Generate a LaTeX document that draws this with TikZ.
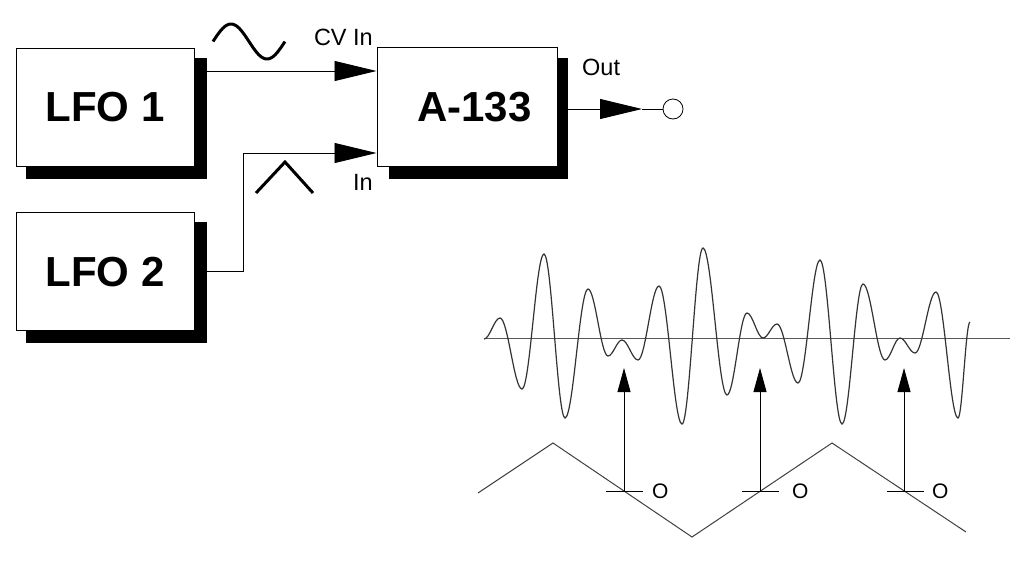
\documentclass[tikz,border=0pt]{standalone}
\usepackage{fontspec}
\setmainfont{Liberation Sans}
\usetikzlibrary{arrows.meta}
\begin{document}
\begin{tikzpicture}[x=1pt,y=-1pt,
  shadowbox/.style={fill=black,draw=none,inner sep=0pt},
  mainbox/.style={draw=black,fill=white,line width=1pt,inner sep=0pt,minimum width=178pt,minimum height=118pt},
  boxtext/.style={font=\fontsize{42}{48}\selectfont\bfseries,inner sep=0pt},
  lbl/.style={font=\fontsize{23.5}{28}\selectfont,inner sep=0pt},
  olbl/.style={font=\fontsize{21}{25}\selectfont,inner sep=0pt,anchor=base west},
  conn/.style={draw=black,line width=0.9pt},
  bigtip/.style={-{Triangle[length=42pt,width=20pt]}},
  smalltip/.style={-{Triangle[length=24pt,width=13pt]}},
  symbol/.style={line width=3pt,line join=miter},
  wave/.style={draw=black!80,line width=1.2pt},
  axis/.style={draw=black!65,line width=1.6pt},
  tri/.style={draw=black!75,line width=1pt}]
\useasboundingbox (0,0) rectangle (1024,576);

% shadows
\node[shadowbox,minimum width=181pt,minimum height=121pt] (lfo1s) at (116.5,118.5) {};
\node[shadowbox,minimum width=181pt,minimum height=121pt] (lfo2s) at (116.5,282.5) {};
\node[shadowbox,minimum width=179pt,minimum height=121pt] (a133s) at (478.5,118.5) {};

% boxes
\node[mainbox] (lfo1) at (105,107) {};
\node[mainbox] (lfo2) at (105,271.5) {};
\node[mainbox,minimum width=180pt,minimum height=119pt] (a133) at (467,106.5) {};
\node[boxtext] (lfo1t) at (105,107.5) {LFO 1};
\node[boxtext] (lfo2t) at (105,272) {LFO 2};
\node[boxtext] (a133t) at (474.5,107.5) {A-133};

% labels
\node[lbl,anchor=base east] (cvlbl) at (373,45) {CV In};
\node[lbl,anchor=base east] (inlbl) at (373,190) {In};
\node[lbl,anchor=base west] (outlbl) at (582,75) {Out};

% connectors
\coordinate (cvin) at (a133.west |- 0,71);
\coordinate (inp) at (a133.west |- 0,153);
\coordinate (bend) at (243,153);
\coordinate (outtip) at (642,109);
\node[draw=black,line width=0.8pt,circle,minimum size=20pt,inner sep=0pt] (jack) at (673,109) {};
\draw[conn,bigtip] (lfo1s.east |- cvin) -- (cvin);
\draw[conn,bigtip] (lfo2s.east |- lfo2.center) -| (bend) -- (inp);
\draw[conn,bigtip] (a133s.east |- outtip) -- (outtip);
\draw[conn] (outtip) -- (jack.west);

% waveform symbols
\draw[symbol] plot[domain=0:1,samples=60,smooth] ({213+72*\x},{41.5-17.5*sin(360*\x)});
\draw[symbol] (256,193) -- (285,162) -- (313,193);

% axis
\draw[axis] (484,338.5) -- (1010,338.5);

% modulated waveform
\draw[wave] (484,339)
  \foreach \x/\y [remember=\x as \lx (initially 484), remember=\y as \ly (initially 339)] in
  {500/318, 522/389, 544/254, 565/418, 588/289, 608/356, 622/340, 638/360, 659/286,
   682/424, 703/248, 727/395, 747/313, 763/338, 777/324, 798/383, 820/260, 842/424,
   863/284, 885/360, 900/338, 915/353, 936/292, 958/418, 970/322}
  { .. controls ({\lx+0.36*(\x-\lx)},\ly) and ({\x-0.36*(\x-\lx)},\y) .. (\x,\y) };

% triangle LFO wave
\draw[tri] (478,493) -- (553,443) -- (692,537) -- (832,443) -- (966,532);

% sample arrows
\coordinate (c1) at (624,491);
\coordinate (c2) at (760,491);
\coordinate (c3) at (904,491);
\coordinate (t1) at (624,368);
\coordinate (t2) at (760,368);
\coordinate (t3) at (904,368);
\draw[conn,smalltip] (c1) -- (t1);
\draw[conn,smalltip] (c2) -- (t2);
\draw[conn,smalltip] (c3) -- (t3);
\draw[conn] ([xshift=-18pt]c1) -- ([xshift=19pt]c1);
\draw[conn] ([xshift=-18pt]c2) -- ([xshift=19pt]c2);
\draw[conn] ([xshift=-17pt]c3) -- ([xshift=20pt]c3);
\node[olbl] (o1) at (652,498) {O};
\node[olbl] (o2) at (792,498) {O};
\node[olbl] (o3) at (932,498) {O};
\end{tikzpicture}
\end{document}
